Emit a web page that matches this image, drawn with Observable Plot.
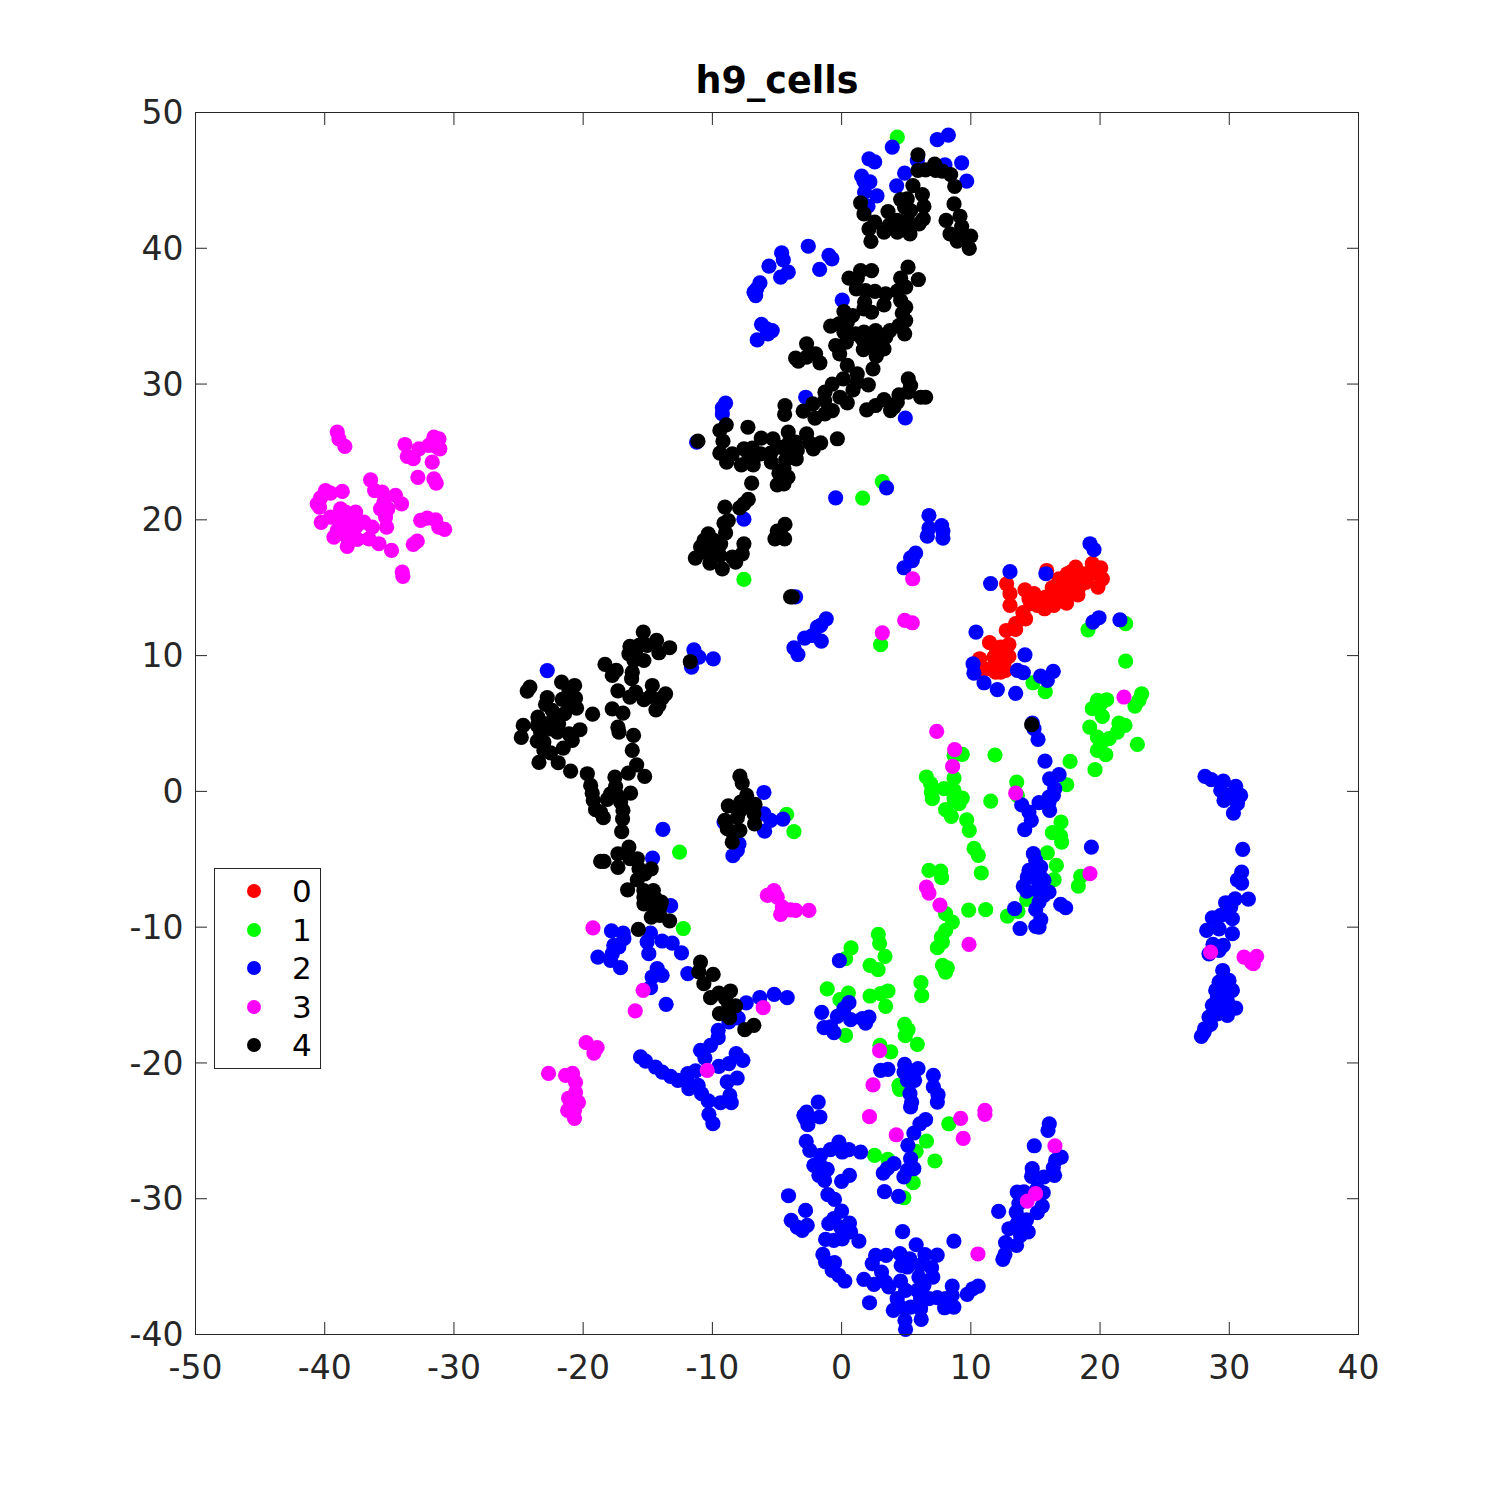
<!DOCTYPE html>
<html>
<head>
<meta charset="utf-8">
<script src="https://cdn.jsdelivr.net/npm/d3@7"></script>
<script src="https://cdn.jsdelivr.net/npm/@observablehq/plot@0.6"></script>
<style>
html,body{margin:0;padding:0;background:#fff;}
#wrap{position:relative;width:1500px;height:1500px;font-family:"DejaVu Sans",sans-serif;}
#legend{position:absolute;left:214px;top:868px;width:105px;height:199px;border:1px solid #262626;background:#fff;box-sizing:content-box;}
#legend .row{position:absolute;left:0;width:105px;height:38px;}
#legend .dot{position:absolute;left:32px;top:12px;width:14px;height:14px;border-radius:50%;}
#legend .lab{position:absolute;left:77px;top:0;font-size:31px;line-height:38px;color:#000;}
</style>
</head>
<body>
<div id="wrap"><div id="chart"></div><div id="legend"></div></div>
<script>
const title = "h9_cells";
const xTicks = [-50,-40,-30,-20,-10,0,10,20,30,40];
const yTicks = [-40,-30,-20,-10,0,10,20,30,40,50];
const classLabels = ["0","1","2","3","4"];
const classColors = ["#ff0000","#00ff00","#0000ff","#ff00ff","#000000"];

const class0 = [[15.87,16.27],[12.77,15.29],[13.03,14.56],[13.03,13.7],[14.19,14.85],[14.89,14.56],[14.63,13.82],[15.4,14.19],[15.14,13.7],[15.71,13.45],[16.18,14.06],[16.43,13.7],[16.95,14.06],[17.41,13.87],[16.69,14.92],[16.82,15.66],[17.47,16.03],[18.11,16.52],[17.72,16.15],[17.21,15.17],[17.85,15.41],[18.29,14.48],[17.6,14.68],[18.11,15.91],[18.37,15.05],[18.76,16.03],[19.4,16.77],[20.05,16.47],[20.18,15.66],[19.84,15.05],[19.14,15.91],[19.53,16.15],[18.63,15.54],[14.03,13.16],[14.24,12.71],[13.47,12.35],[13.47,11.93],[12.74,11.85],[11.45,10.95],[12.95,10.82],[12.31,10.63],[11.79,9.89],[12.95,9.94],[12.44,10.14],[10.68,9.77],[12.05,9.52],[12.56,9.4],[11.53,9.03],[11.02,9.03],[12.31,8.79],[12.69,8.91],[11.92,8.79],[14.5,14.19],[15.79,14.31],[16.43,14.43],[17.21,14.56],[16.95,14.8],[12.3,9.9],[12.0,10.3],[17.5,15.5],[18.9,15.4],[16.3,15.0]];

const class1 = [[4.31,48.18],[3.15,22.82],[1.63,21.6],[-7.56,15.61],[3.02,10.8],[-4.25,-1.7],[-3.69,-2.97],[-12.54,-4.47],[-12.25,-10.1],[19.07,11.9],[21.98,12.35],[21.98,9.6],[14.81,8.0],[15.76,7.34],[23.22,7.19],[23.01,6.7],[22.7,6.28],[19.79,6.7],[20.51,6.75],[19.4,6.09],[20.05,6.45],[20.18,5.52],[19.2,4.74],[21.46,5.03],[21.93,4.86],[22.89,3.46],[19.79,4.0],[20.7,3.88],[21.34,4.37],[20.05,3.46],[19.79,3.02],[20.44,2.7],[17.68,2.21],[19.61,1.6],[17.42,0.49],[13.55,0.69],[11.87,2.68],[9.34,2.73],[8.7,2.65],[8.7,0.98],[6.56,1.06],[6.89,0.57],[7.92,0.2],[8.7,0.07],[6.94,-0.05],[7.02,-0.54],[9.34,-0.49],[8.7,-0.54],[9.09,-0.91],[11.54,-0.71],[8.05,-1.35],[8.49,-1.84],[9.68,-2.09],[9.88,-2.87],[13.6,-0.29],[16.98,-2.26],[16.31,-3.04],[16.95,-3.29],[17.03,-3.73],[15.92,-4.52],[16.62,-5.45],[10.25,-4.2],[10.58,-4.71],[10.81,-6.01],[6.76,-5.82],[7.67,-5.87],[7.74,-6.36],[16.44,-6.5],[18.5,-6.26],[18.32,-6.97],[14.32,-7.95],[9.83,-8.74],[11.15,-8.71],[12.83,-9.18],[13.65,-8.84],[8.05,-9.01],[8.57,-9.62],[8.05,-10.24],[7.72,-10.73],[7.41,-11.51],[7.8,-11.1],[7.8,-12.81],[8.18,-12.99],[8.05,-13.31],[6.14,-14.09],[6.2,-15.05],[2.84,-10.53],[2.94,-11.2],[3.36,-12.15],[0.73,-11.53],[0.31,-12.32],[2.2,-12.81],[2.82,-13.13],[-1.11,-14.55],[0.52,-14.85],[-0.13,-15.34],[2.2,-15.07],[3.02,-14.9],[3.59,-14.7],[3.41,-15.83],[4.88,-17.16],[5.14,-17.55],[4.93,-17.99],[5.86,-18.63],[0.31,-17.97],[2.97,-18.7],[3.8,-19.19],[4.44,-21.65],[4.49,-21.94],[8.3,-24.48],[6.57,-25.75],[5.77,-26.51],[7.22,-27.22],[2.55,-26.81],[3.58,-27.1],[5.54,-28.82],[4.82,-29.93]];

const class2 = [[3.92,47.45],[7.4,48.0],[8.26,48.33],[2.12,46.59],[2.56,46.37],[5.86,46.46],[8.0,46.14],[9.29,46.29],[4.88,45.53],[9.68,44.94],[1.55,45.31],[1.73,44.94],[2.19,44.89],[4.26,44.6],[1.78,44.13],[2.74,43.86],[2.04,43.1],[-2.58,40.15],[-4.64,39.66],[-4.51,39.15],[-5.62,38.68],[-0.98,39.47],[-0.75,39.22],[-1.7,38.44],[-4.13,38.24],[-4.72,37.87],[-6.32,37.45],[-6.58,37.0],[-6.78,36.77],[-6.65,36.52],[0.05,36.18],[-6.2,34.4],[-5.8,34.07],[-5.37,33.94],[-5.7,33.7],[-6.53,33.25],[-2.78,29.03],[-8.98,28.59],[-9.23,28.25],[-9.23,27.8],[4.93,27.5],[-11.22,25.72],[-7.56,20.05],[-3.56,14.33],[-0.46,21.62],[3.48,22.36],[6.76,20.32],[6.76,19.39],[7.74,19.58],[7.84,19.17],[6.63,18.8],[7.84,18.65],[5.73,17.55],[5.34,17.2],[5.47,17.0],[4.83,16.47],[11.53,15.31],[-1.19,12.71],[-1.88,12.1],[-1.62,12.22],[-2.86,11.29],[-2.27,11.48],[-1.57,11.06],[-3.69,10.57],[-3.38,10.08],[-11.43,10.43],[-11.04,9.89],[-11.61,9.15],[-9.93,9.76],[10.4,11.73],[10.17,9.4],[10.24,8.71],[11.02,8.0],[12.05,7.5],[-22.78,8.9],[-6.01,-0.08],[-6.01,-1.65],[-5.49,-2.14],[-4.54,-2.04],[-5.96,-2.93],[-9.1,-2.26],[-7.94,-3.86],[-8.07,-4.35],[-8.41,-4.74],[-13.83,-2.8],[-14.63,-4.91],[-13.23,-8.42],[19.22,18.24],[19.53,17.8],[13.03,16.18],[15.81,16.03],[19.92,12.79],[19.45,12.47],[21.54,12.64],[14.19,10.06],[13.6,8.91],[14.06,8.74],[13.47,7.22],[15.4,8.49],[15.92,8.17],[16.38,8.84],[14.76,5.03],[14.89,4.62],[15.2,3.83],[15.74,2.23],[16.83,1.23],[16.1,0.93],[16.49,0.2],[16.39,-0.29],[16.05,-0.42],[15.28,-0.83],[16.05,-0.79],[16.1,-1.4],[13.94,-1.0],[14.5,-1.52],[14.68,-2.13],[14.17,-2.82],[19.33,-4.1],[14.84,-4.59],[15.02,-5.08],[15.41,-5.57],[14.5,-5.82],[14.89,-5.69],[14.37,-6.31],[15.41,-6.31],[15.02,-6.43],[15.66,-6.55],[14.06,-7.0],[14.32,-7.34],[15.15,-7.29],[16.05,-7.41],[15.66,-7.66],[15.28,-8.15],[16.95,-8.32],[17.34,-8.57],[15.02,-8.69],[13.39,-8.64],[15.41,-9.45],[13.81,-10.1],[15.02,-9.94],[15.28,-9.99],[-17.81,-10.28],[-16.9,-10.43],[-16.85,-10.85],[-17.63,-11.34],[-17.24,-11.46],[-18.86,-12.2],[-17.88,-12.44],[-17.75,-11.95],[-17.11,-12.98],[-14.79,-10.43],[-15.05,-11.09],[-14.92,-11.95],[-13.89,-11.02],[-13.11,-11.17],[-12.39,-11.9],[-11.9,-13.42],[-14.27,-13.06],[-13.89,-13.55],[-14.66,-13.67],[-14.79,-14.46],[-13.58,-15.68],[-7.38,-15.58],[-6.33,-15.19],[-5.22,-14.95],[-4.21,-15.19],[-8.0,-16.69],[-8.72,-16.98],[-9.55,-17.6],[-9.55,-18.14],[-10.14,-18.7],[-10.92,-19.07],[-10.58,-19.64],[-8.16,-19.32],[-7.64,-19.81],[-8.72,-20.05],[-9.5,-20.25],[-11.3,-20.59],[-11.9,-20.79],[-15.56,-19.56],[-15.17,-19.86],[-14.4,-20.3],[-13.88,-20.67],[-13.24,-20.99],[-12.67,-21.28],[-11.95,-21.28],[-11.82,-21.9],[-11.1,-21.65],[-10.84,-22.26],[-10.32,-22.8],[-9.37,-22.93],[-8.54,-22.93],[-8.65,-22.39],[-8.85,-21.4],[-8.08,-21.11],[-10.27,-23.78],[-9.96,-24.47],[-0.17,-12.47],[0.57,-15.56],[0.18,-16.0],[-1.54,-16.27],[-0.33,-16.57],[0.7,-16.81],[1.6,-16.74],[2.12,-16.62],[1.86,-17.06],[-1.36,-17.4],[-0.85,-17.35],[-0.59,-17.77],[3.02,-20.54],[3.59,-20.47],[4.88,-20.1],[5.91,-20.42],[4.83,-20.67],[5.47,-20.79],[5.09,-21.28],[5.65,-21.28],[7.1,-20.91],[7.1,-21.77],[7.46,-22.34],[7.41,-22.88],[5.29,-22.26],[5.42,-22.88],[5.34,-23.24],[-1.81,-22.88],[-2.71,-23.62],[-2.92,-23.86],[-1.68,-23.98],[-2.61,-24.55],[-2.79,-24.11],[-2.74,-25.78],[-2.46,-26.44],[-0.21,-25.83],[-0.86,-26.39],[0.56,-26.39],[0.05,-26.56],[1.47,-26.56],[-1.63,-26.81],[-2.15,-27.54],[-1.11,-27.84],[-1.63,-27.54],[-1.76,-28.28],[-1.32,-28.65],[0.61,-28.28],[0.0,-28.72],[-4.11,-29.78],[-1.06,-29.7],[-0.55,-30.05],[0.0,-30.91],[-2.79,-30.86],[-3.9,-31.59],[-2.66,-31.96],[-3.44,-32.09],[-3.05,-32.33],[-0.99,-31.84],[-0.6,-31.47],[0.61,-31.79],[-0.08,-32.09],[0.69,-32.45],[-1.24,-33.0],[-0.6,-33.07],[0.05,-32.95],[1.34,-33.12],[-1.45,-34.1],[-1.24,-34.66],[-0.55,-34.71],[-0.73,-35.28],[-0.21,-35.65],[0.25,-36.06],[1.72,-35.94],[2.5,-36.31],[2.16,-37.66],[2.63,-34.17],[3.45,-34.17],[2.37,-34.78],[3.09,-35.4],[3.4,-36.14],[3.66,-36.5],[4.72,-32.43],[4.51,-34.05],[5.26,-34.42],[4.61,-34.91],[5.08,-35.03],[5.77,-33.39],[6.45,-34.12],[7.4,-34.15],[6.06,-34.91],[6.96,-35.08],[5.98,-35.77],[7.06,-35.77],[4.56,-36.06],[6.37,-36.38],[4.95,-36.75],[5.85,-36.75],[4.3,-37.36],[6.11,-37.36],[6.76,-37.36],[7.4,-37.29],[8.56,-36.43],[8.05,-37.36],[8.56,-37.12],[9.72,-37.04],[10.16,-36.63],[10.57,-36.43],[7.97,-38.03],[8.69,-37.98],[4.0,-38.22],[4.56,-37.98],[5.34,-37.98],[6.11,-38.1],[6.16,-38.89],[4.9,-38.96],[4.95,-39.62],[8.69,-33.12],[6.5,-24.18],[6.06,-24.48],[5.59,-25.16],[5.13,-26.07],[5.34,-27.05],[5.59,-27.79],[4.82,-28.4],[4.05,-27.42],[3.53,-27.79],[3.22,-28.11],[3.32,-29.48],[4.41,-29.83],[5.08,-27.91],[16.07,-24.48],[15.97,-24.97],[14.91,-26.1],[17.0,-26.93],[16.56,-27.18],[16.38,-27.72],[16.48,-28.28],[14.75,-27.79],[14.7,-28.35],[15.66,-28.4],[13.59,-29.51],[15.14,-29.26],[15.6,-29.56],[14.11,-29.5],[13.72,-30.37],[15.53,-30.54],[15.14,-31.03],[12.15,-30.93],[13.51,-30.98],[14.31,-31.55],[13.59,-31.84],[12.95,-32.21],[14.44,-32.45],[13.85,-32.7],[12.69,-33.24],[13.54,-33.44],[12.64,-34.1],[12.48,-34.47],[28.12,1.1],[28.61,0.86],[29.54,0.76],[29.34,0.07],[30.5,0.37],[29.85,-0.3],[30.88,-0.3],[29.59,-0.67],[30.63,-0.91],[30.32,-1.6],[31.04,-4.27],[30.96,-5.94],[30.63,-6.51],[30.96,-6.75],[31.48,-7.93],[30.45,-7.91],[29.72,-8.2],[30.11,-8.52],[30.24,-9.38],[29.34,-9.13],[28.69,-9.31],[28.25,-10.24],[29.21,-10.12],[30.24,-10.48],[28.74,-11.27],[29.54,-11.34],[28.43,-11.96],[29.21,-11.71],[29.49,-13.19],[29.98,-13.92],[29.21,-14.05],[30.24,-14.66],[28.95,-14.66],[29.59,-14.78],[29.08,-15.15],[29.85,-15.4],[28.69,-15.76],[29.34,-15.76],[30.5,-15.96],[29.85,-16.5],[29.08,-16.38],[28.43,-16.62],[28.56,-17.16],[28.1,-17.48],[27.84,-18.05],[28.05,-17.73]];

const class3 = [[-39.03,26.46],[-38.9,25.97],[-38.44,25.41],[-33.79,25.55],[-31.55,26.09],[-31.16,25.97],[-32.71,25.23],[-31.94,25.48],[-31.29,25.36],[-33.61,24.67],[-33.15,24.5],[-31.68,24.25],[-31.09,25.23],[-32.79,23.12],[-31.55,23.02],[-31.37,22.7],[-36.45,22.95],[-36.14,22.16],[-35.55,22.04],[-34.52,21.8],[-34.05,21.18],[-38.64,22.09],[-39.94,22.16],[-39.55,21.97],[-40.32,21.62],[-40.58,21.18],[-40.4,20.94],[-35.42,21.3],[-35.11,20.81],[-35.68,20.81],[-38.77,20.81],[-37.61,20.57],[-38.39,20.57],[-39.55,20.2],[-40.27,19.81],[-38.9,20.08],[-38.0,19.96],[-36.97,19.83],[-35.29,20.2],[-35.21,19.46],[-36.32,19.46],[-38.65,19.34],[-37.61,19.46],[-39.29,18.73],[-39.03,19.22],[-38.39,18.85],[-37.48,18.56],[-36.58,18.6],[-35.81,18.24],[-38.26,18.04],[-34.83,17.75],[-32.58,19.96],[-32.07,20.13],[-31.42,20.0],[-31.17,19.46],[-30.72,19.29],[-32.84,18.43],[-33.15,18.19],[-34.0,16.15],[-33.95,15.83],[5.5,15.66],[3.15,11.68],[4.88,12.59],[5.47,12.42],[21.85,6.95],[7.36,4.42],[8.75,3.07],[8.59,1.84],[13.47,-0.12],[19.22,-6.06],[6.56,-7.05],[6.76,-7.49],[7.61,-8.37],[9.86,-11.27],[-5.23,-7.3],[-5.75,-7.66],[-4.98,-7.79],[-4.59,-8.52],[-4.72,-9.06],[-3.95,-8.72],[-3.56,-8.77],[-2.53,-8.77],[-19.24,-10.05],[-15.36,-14.65],[-15.97,-16.17],[-6.07,-15.93],[-19.77,-18.51],[-18.92,-18.87],[-19.17,-19.27],[-10.4,-20.54],[-22.68,-20.77],[-21.36,-20.91],[-20.82,-20.77],[-20.59,-21.43],[-20.59,-22.16],[-20.98,-22.75],[-20.36,-22.9],[-21.2,-23.49],[-20.67,-23.49],[-20.67,-24.08],[-21.13,-22.6],[2.94,-19.1],[2.43,-21.62],[2.16,-23.96],[4.23,-25.29],[9.21,-24.08],[9.41,-25.56],[11.09,-23.49],[11.09,-23.79],[16.51,-26.1],[15.01,-29.63],[14.37,-30.17],[10.55,-34.07],[28.56,-11.84],[31.14,-12.2],[31.71,-12.57],[32.12,-12.15],[31.86,-12.69]];

const class4 = [[5.91,46.88],[5.91,45.73],[6.5,45.78],[7.2,46.2],[7.28,45.73],[7.79,45.68],[8.44,45.43],[5.52,44.62],[8.75,44.55],[6.25,43.96],[4.57,43.59],[5.08,43.64],[1.47,43.35],[8.7,43.27],[6.37,43.08],[4.88,43.03],[1.73,42.53],[3.59,42.7],[5.34,42.78],[9.16,42.36],[6.32,42.17],[5.08,42.17],[8.08,42.05],[4.31,42.05],[2.56,41.92],[5.99,41.8],[5.34,41.75],[4.57,41.6],[3.67,41.68],[9.29,41.6],[2.12,41.43],[3.28,41.19],[4.31,41.19],[5.29,41.06],[8.39,41.06],[9.99,40.89],[9.42,40.94],[8.95,40.52],[2.27,40.5],[9.88,40.0],[5.14,38.61],[2.32,38.36],[1.47,38.36],[4.57,37.8],[5.94,37.7],[0.57,37.8],[1.21,37.8],[4.96,37.14],[1.14,37.01],[1.86,36.89],[2.58,36.82],[3.41,36.64],[4.31,36.84],[4.57,36.15],[1.78,36.03],[3.28,35.83],[4.96,35.66],[1.73,35.54],[2.32,35.29],[4.7,35.22],[0.18,35.34],[0.85,35.05],[4.96,34.68],[0.44,34.56],[-0.85,34.26],[-0.2,34.43],[4.44,34.31],[0.18,33.82],[3.74,33.94],[2.63,33.94],[1.73,33.82],[1.09,33.7],[4.88,33.7],[3.41,33.45],[1.6,33.33],[2.5,33.08],[3.02,33.2],[0.36,33.08],[-0.46,32.84],[-2.71,32.96],[3.28,32.59],[1.68,32.54],[2.76,32.35],[-0.15,32.23],[-2.01,32.23],[-3.56,31.91],[-3.35,31.68],[-2.71,31.98],[2.68,32.05],[-1.68,31.56],[0.44,31.37],[2.43,31.12],[1.21,30.75],[5.16,30.38],[0.13,30.38],[-0.72,30.0],[5.34,29.89],[1.21,30.14],[2.07,29.94],[0.88,29.57],[-1.29,29.4],[5.16,29.4],[4.44,29.2],[6.12,29.03],[6.5,29.03],[-0.13,29.03],[3.28,28.86],[-1.31,28.79],[-2.22,28.54],[4.31,28.66],[-4.38,28.42],[0.44,28.62],[2.63,28.42],[4.05,28.3],[1.94,28.1],[3.79,28.05],[-2.97,28.0],[-0.72,28.05],[-1.29,27.8],[-4.41,27.76],[-2.06,27.49],[-8.93,27.0],[-7.25,26.82],[-9.42,26.58],[-11.12,25.79],[-9.18,25.79],[-4.13,26.46],[-6.22,26.02],[-5.31,25.97],[-2.71,26.34],[-0.33,25.97],[-1.62,25.67],[-2.45,25.65],[-2.19,25.23],[-3.56,25.72],[-4.13,25.6],[-4.85,25.35],[-7.56,25.23],[-6.91,25.28],[-9.42,24.91],[-8.46,24.86],[-6.27,24.86],[-3.43,25.11],[-4.2,24.98],[-5.49,24.91],[-7.17,24.74],[-6.65,24.74],[-8.9,24.25],[-7.76,24.05],[-6.84,24.05],[-5.44,24.25],[-3.51,24.49],[-4.33,24.42],[-4.07,24.86],[-4.46,23.76],[-4.85,23.44],[-4.15,23.14],[-6.96,22.7],[-4.46,22.65],[-4.98,22.58],[-7.22,21.5],[-7.56,21.18],[-7.89,20.88],[-9.03,20.93],[-8.77,19.95],[-9.1,19.75],[-8.98,19.04],[-4.38,19.66],[-4.98,19.17],[-5.16,18.6],[-4.41,18.6],[-4.72,18.97],[-10.32,18.97],[-10.65,18.48],[-9.88,18.48],[-9.36,18.23],[-7.56,18.23],[-10.91,18.0],[-10.19,18.0],[-10.78,17.62],[-9.88,17.62],[-9.42,17.37],[-7.69,17.5],[-8.46,17.25],[-11.32,17.18],[-10.19,16.81],[-8.2,16.88],[-9.23,16.39],[-3.95,14.33],[-3.82,14.33],[-15.35,11.73],[-14.32,11.12],[-13.31,10.58],[-16.38,10.68],[-15.68,10.75],[-15.04,10.75],[-16.46,10.13],[-15.94,10.26],[-14.14,10.21],[-15.3,9.64],[-16.07,9.64],[-11.71,9.55],[-18.31,9.35],[-17.44,8.91],[-17.75,8.54],[-16.2,8.78],[-16.25,8.3],[-21.67,8.05],[-20.66,7.8],[-24.12,7.68],[-24.33,7.39],[-14.65,7.8],[-21.1,7.39],[-17.31,7.41],[-15.94,7.31],[-13.62,7.19],[-13.88,6.89],[-16.38,6.94],[-15.3,6.75],[-14.78,7.0],[-22.78,6.9],[-21.62,6.77],[-20.59,6.87],[-22.91,6.4],[-21.1,6.6],[-20.51,6.13],[-14.14,6.33],[-14.37,6.01],[-17.75,6.08],[-22.4,5.96],[-16.92,5.77],[-19.27,5.69],[-21.44,5.72],[-23.5,5.47],[-22.26,5.35],[-22.91,4.98],[-24.64,4.86],[-23.55,4.86],[-21.9,4.98],[-17.31,4.73],[-22.52,4.61],[-20.25,4.54],[-17.23,4.37],[-23.3,4.37],[-22.0,4.37],[-21.1,4.24],[-16.1,4.12],[-24.79,3.97],[-20.84,3.75],[-23.55,3.7],[-23.04,3.63],[-21.54,3.19],[-16.2,3.02],[-23.04,3.02],[-22.52,2.84],[-23.42,2.13],[-21.93,2.11],[-20.97,1.49],[-19.68,1.3],[-15.86,1.96],[-16.51,1.35],[-15.24,1.1],[-17.54,1.05],[-19.42,0.44],[-17.49,0.36],[-16.33,-0.13],[-19.3,-0.13],[-17.88,-0.18],[-17.36,-0.3],[-18.13,-0.59],[-19.22,-0.67],[-17.1,-0.79],[-19.04,-1.35],[-16.92,-1.4],[-18.65,-1.53],[-18.44,-1.94],[-16.95,-2.02],[-17.02,-2.97],[-16.46,-4.1],[-17.31,-4.6],[-18.39,-5.16],[-18.65,-5.16],[-17.31,-5.6],[-16.38,-4.96],[-15.81,-4.96],[-15.68,-5.7],[-14.73,-5.7],[-15.24,-6.07],[-15.81,-6.51],[-16.56,-7.25],[-15.3,-7.3],[-14.57,-7.3],[-15.3,-7.79],[-14.39,-7.91],[-13.95,-8.15],[-15.3,-8.28],[-14.52,-8.52],[-14.06,-8.52],[-14.73,-9.26],[-14.06,-9.14],[-13.31,-9.53],[-15.73,-10.17],[-7.87,1.12],[-7.69,0.61],[-7.35,-0.3],[-8.77,-1.06],[-7.81,-0.79],[-6.7,-0.96],[-7.17,-1.16],[-7.94,-1.53],[-6.78,-1.65],[-8.07,-1.94],[-9.03,-2.14],[-6.73,-2.39],[-8.85,-2.75],[-7.87,-2.88],[-8.46,-3.0],[-8.46,-3.74],[14.71,4.91],[-10.92,-12.57],[-11.05,-13.3],[-9.94,-13.47],[-10.66,-14.16],[-10.14,-15.19],[-9.5,-14.85],[-8.6,-14.7],[-8.98,-15.27],[-8.21,-15.8],[-8.72,-15.76],[-9.45,-16.37],[-8.67,-16.67],[-6.79,-17.23],[-7.49,-17.55]];

const frameColor = "#262626";
const drawOrder = [[class1,1],[class0,0],[class2,2],[class3,3],[class4,4]];

const dotMarks = drawOrder.map(([pts,c]) => Plot.dot(pts, {
  x: d => d[0], y: d => d[1], r: 7.6, fill: classColors[c], stroke: "none"
}));

const fmt = d => String(d);

const plot = Plot.plot({
  width: 1500, height: 1500,
  marginLeft: 195, marginRight: 142, marginTop: 112, marginBottom: 166,
  style: {background: "#fff", fontFamily: '"DejaVu Sans", sans-serif', overflow: "visible"},
  x: {domain: [-50, 40], ticks: xTicks},
  y: {domain: [-40, 50], ticks: yTicks},
  marks: [
    ...dotMarks,
    Plot.frame({stroke: frameColor, strokeWidth: 1}),
    Plot.axisX(xTicks, {anchor: "bottom", tickSize: -12, tickPadding: 33, tickFormat: fmt, label: null, fontSize: 33, fill: frameColor, stroke: frameColor}),
    Plot.axisX(xTicks, {anchor: "top", tickSize: -12, tickFormat: () => "", label: null, stroke: frameColor}),
    Plot.axisY(yTicks, {anchor: "left", tickSize: -12, tickFormat: () => "", label: null, stroke: frameColor}),
    Plot.axisY(yTicks, {anchor: "left", tickSize: 0, tickPadding: 12, dy: 1, tickFormat: fmt, label: null, fontSize: 33, fill: frameColor}),
    Plot.axisY(yTicks, {anchor: "right", tickSize: -12, tickFormat: () => "", label: null, stroke: frameColor}),
    Plot.text([title], {frameAnchor: "top", dy: -31, lineAnchor: "middle", fontSize: 36.5, fontWeight: "bold", fill: "#000"})
  ]
});
document.getElementById("chart").appendChild(plot);

const legend = document.getElementById("legend");
classLabels.forEach((lab, i) => {
  const row = document.createElement("div");
  row.className = "row";
  row.style.top = (3 + i * 38.6) + "px";
  const dot = document.createElement("span");
  dot.className = "dot";
  dot.style.background = classColors[i];
  const t = document.createElement("span");
  t.className = "lab";
  t.textContent = lab;
  row.append(dot, t);
  legend.appendChild(row);
});
</script>
</body>
</html>
